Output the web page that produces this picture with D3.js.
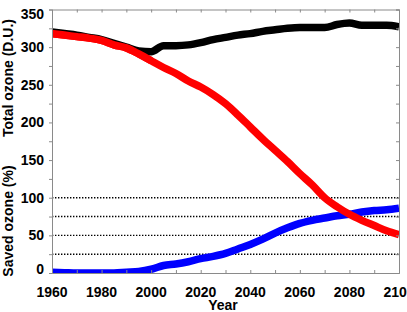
<!DOCTYPE html>
<html>
<head>
<meta charset="utf-8">
<script src="https://cdn.jsdelivr.net/npm/d3@7"></script>
<style>
  body { margin: 0; background: #fff; }
  svg text { font-family: "Liberation Sans", Arial, sans-serif; font-weight: bold; }
</style>
</head>
<body>
<svg id="chart" width="407" height="312"></svg>
<script>
// years every 5 from 1960 to 2100
const years = d3.range(1960, 2101, 5)
// total ozone, real world (D.U.)
const totalOzone = [320, 318, 316, 313, 310, 305, 300, 295, 294, 302, 302, 303, 306, 310, 313, 316, 318, 321, 323, 325, 326, 326, 326, 330, 332, 329, 329, 329, 327]
// total ozone, world avoided (D.U.)
const avoidedOzone = [318, 316, 314, 312, 309, 303, 299, 291, 282, 273, 265, 255, 247, 237, 225, 210, 194, 178, 163, 148, 132, 117, 100, 88, 78, 70, 63, 56, 51]
// saved ozone (%)
const savedOzone = [1, 0.5, 0, 0, 0, 0, 1, 2, 5, 10, 12, 15, 19, 22, 26, 32, 38, 45, 53, 60, 66, 70, 73, 76, 78, 81, 83, 84, 86]
const yTicks = [0, 50, 100, 150, 200, 250, 300, 350]
const xTicks = [1960, 1980, 2000, 2020, 2040, 2060, 2080, 2100]
const dottedLevels = [25, 50, 75, 100]

const svg = d3.select("#chart")
const mLeft = 52, mRight = 399, mTop = 9.5, mBottom = 273
const axisColor = "#8a8a8a"

const x = d3.scaleLinear().domain([1960, 2100]).range([mLeft, mRight])
const y = d3.scaleLinear().domain([0, 350]).range([mBottom, mTop])

// dotted reference lines
svg.selectAll(".dot-line").data(dottedLevels).join("line")
  .attr("x1", mLeft).attr("x2", mRight)
  .attr("y1", d => y(d)).attr("y2", d => y(d))
  .attr("stroke", "#000").attr("stroke-width", 1.4)
  .attr("stroke-dasharray", "1.4,1.6")

// clip for the thick lines
svg.append("clipPath").attr("id", "plot")
  .append("rect").attr("x", mLeft).attr("y", mTop).attr("width", mRight - mLeft).attr("height", mBottom - mTop)

const line = (vals, yrs) => d3.line()
  .x((d, i) => x(yrs[i]))
  .y(d => y(d))
  .curve(d3.curveMonotoneX)(vals)

const g = svg.append("g").attr("clip-path", "url(#plot)")
;[[savedOzone, "#0000ff"], [avoidedOzone, "#ff0000"], [totalOzone, "#000000"]].forEach(([vals, col]) => {
  g.append("path").attr("d", line(vals, years))
    .attr("fill", "none").attr("stroke", col)
    .attr("stroke-width", 7.5).attr("stroke-linejoin", "round")
})
// red drawn on top of black at the start where they overlap
g.append("path").attr("d", line(avoidedOzone.slice(0, 9), years))
  .attr("fill", "none").attr("stroke", "#ff0000")
  .attr("stroke-width", 7.5).attr("stroke-linejoin", "round")

// axes
const bottomAxis = d3.axisBottom(x).tickValues(d3.range(1960, 2101, 10)).tickSize(-3).tickFormat("")
const topAxis = d3.axisTop(x).tickValues(d3.range(1960, 2101, 10)).tickSize(-3).tickFormat("")
const leftAxis = d3.axisLeft(y).tickValues(d3.range(0, 351, 25)).tickSize(3).tickFormat("")
const rightAxis = d3.axisRight(y).tickValues(d3.range(0, 351, 25)).tickSize(-3).tickFormat("")

svg.append("g").attr("transform", `translate(0,${mBottom})`).call(bottomAxis)
svg.append("g").attr("transform", `translate(0,${mTop})`).call(topAxis)
svg.append("g").attr("transform", `translate(${mLeft},0)`).call(leftAxis)
svg.append("g").attr("transform", `translate(${mRight},0)`).call(rightAxis)
svg.selectAll(".domain, .tick line").attr("stroke", axisColor).attr("stroke-width", 1)

// tick labels
svg.selectAll(".xlab").data(xTicks).join("text")
  .attr("x", d => x(d)).attr("y", 297)
  .attr("text-anchor", "middle").attr("font-size", 14)
  .text(d => d)

svg.selectAll(".ylab").data(yTicks).join("text")
  .attr("x", 44)
  .attr("y", d => y(d) + 5 + (d === 0 ? -4 : d === 350 ? 4 : 0))
  .attr("text-anchor", "end").attr("font-size", 14)
  .text(d => d)

// titles
svg.append("text").attr("x", 223).attr("y", 310)
  .attr("text-anchor", "middle").attr("font-size", 14).text("Year")
svg.append("text").attr("transform", "translate(13,78) rotate(-90)")
  .attr("text-anchor", "middle").attr("font-size", 14).text("Total ozone (D.U.)")
svg.append("text").attr("transform", "translate(13,221) rotate(-90)")
  .attr("text-anchor", "middle").attr("font-size", 14).text("Saved ozone (%)")
</script>
</body>
</html>
